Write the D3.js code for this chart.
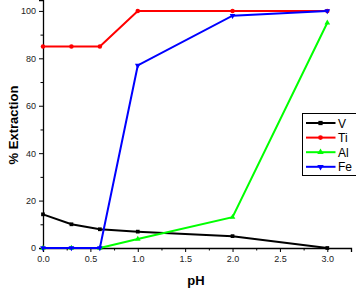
<!DOCTYPE html>
<html>
<head>
<meta charset="utf-8">
<script src="https://cdn.jsdelivr.net/npm/d3@7"></script>
<style>
  body { margin: 0; background: #fff; }
  text { font-family: Arial, "Liberation Sans", sans-serif; }
  .tick text { font-size: 9px; fill: #222; }
</style>
</head>
<body>
<svg id="svg1" width="356" height="288"></svg>
<script>
// pH values shared by every series
const phValues = [0.0, 0.3, 0.6, 1.0, 2.0, 3.0];
const vValues = [14.2, 10, 7.9, 6.9, 5, 0];
const tiValues = [85, 85, 85, 100, 100, 100];
const alValues = [0, 0, 0, 3.8, 13, 95];
const feValues = [0, 0, 0, 77, 98, 100];

const seriesNames = ['V', 'Ti', 'Al', 'Fe'];
const seriesColors = ['#000000', '#ff0000', '#00ff00', '#0000ff'];
const seriesShapes = [d3.symbolSquare, d3.symbolCircle, d3.symbolTriangle, d3.symbolTriangle];

const xTicks = [0, 0.5, 1.0, 1.5, 2.0, 2.5, 3.0];
const yTicks = [0, 20, 40, 60, 80, 100];

const svg = d3.select('#svg1');

// plot box
const plotLeft = 43, plotRight = 351, plotTop = 0, plotBottom = 248;

const xScale = d3.scaleLinear().domain([0, 3.25]).range([plotLeft, plotRight]);
const yScale = d3.scaleLinear().domain([0, 104.6]).range([plotBottom, plotTop]);

// minor ticks first, majors on top
svg.append('g')
  .attr('transform', `translate(0,${plotBottom})`)
  .call(d3.axisBottom(xScale).tickValues(d3.range(0.25, 3.3, 0.5)).tickSize(2.5).tickFormat(''))
  .call(g => g.select('.domain').remove());
svg.append('g')
  .attr('transform', `translate(${plotLeft},0)`)
  .call(d3.axisLeft(yScale).tickValues(d3.range(10, 101, 20)).tickSize(2.5).tickFormat(''))
  .call(g => g.select('.domain').remove());

const xAxisG = svg.append('g')
  .attr('transform', `translate(0,${plotBottom})`)
  .call(d3.axisBottom(xScale).tickValues(xTicks).tickSize(4).tickPadding(4).tickFormat(d3.format('.1f')));
const yAxisG = svg.append('g')
  .attr('transform', `translate(${plotLeft},0)`)
  .call(d3.axisLeft(yScale).tickValues(yTicks).tickSize(4).tickPadding(3));

[xAxisG, yAxisG].forEach(g => {
  g.select('.domain').attr('stroke-width', 1.3);
});
svg.selectAll('.tick line').attr('stroke-width', 1);

const allValues = [vValues, tiValues, alValues, feValues];

const line = d3.line()
  .x((d, i) => xScale(phValues[i]))
  .y(d => yScale(d));

allValues.forEach((vals, k) => {
  svg.append('path')
    .datum(vals)
    .attr('fill', 'none')
    .attr('stroke', seriesColors[k])
    .attr('stroke-width', 2)
    .attr('d', line);

  svg.selectAll(null).data(vals).enter()
    .append('path')
    .attr('d', d3.symbol().type(seriesShapes[k]).size(k === 1 ? 16 : 14))
    .attr('transform', (d, i) => `translate(${xScale(phValues[i])},${yScale(d)})` + (k === 3 ? ' rotate(180)' : ''))
    .attr('fill', seriesColors[k]);
});

// axis titles
svg.append('text')
  .attr('x', 196)
  .attr('y', 285)
  .attr('text-anchor', 'middle')
  .attr('font-size', 13)
  .attr('font-weight', 'bold')
  .text('pH');

svg.append('text')
  .attr('transform', 'translate(18,125) rotate(-90)')
  .attr('text-anchor', 'middle')
  .attr('font-size', 13)
  .attr('font-weight', 'bold')
  .text('% Extraction');

// legend
const legend = svg.append('g');
legend.append('rect')
  .attr('x', 302.5).attr('y', 113.5)
  .attr('width', 60).attr('height', 62)
  .attr('fill', '#fff')
  .attr('stroke', '#000')
  .attr('stroke-width', 1);

seriesNames.forEach((name, k) => {
  const ly = 123 + k * 14.6;
  legend.append('line')
    .attr('x1', 306).attr('x2', 335.5)
    .attr('y1', ly).attr('y2', ly)
    .attr('stroke', seriesColors[k])
    .attr('stroke-width', 2);
  legend.append('path')
    .attr('d', d3.symbol().type(seriesShapes[k]).size(18))
    .attr('transform', `translate(320.5,${ly})` + (k === 3 ? ' rotate(180)' : ''))
    .attr('fill', seriesColors[k]);
  legend.append('text')
    .attr('x', 338)
    .attr('y', ly + 4.5)
    .attr('font-size', 12)
    .text(name);
});
</script>
</body>
</html>
